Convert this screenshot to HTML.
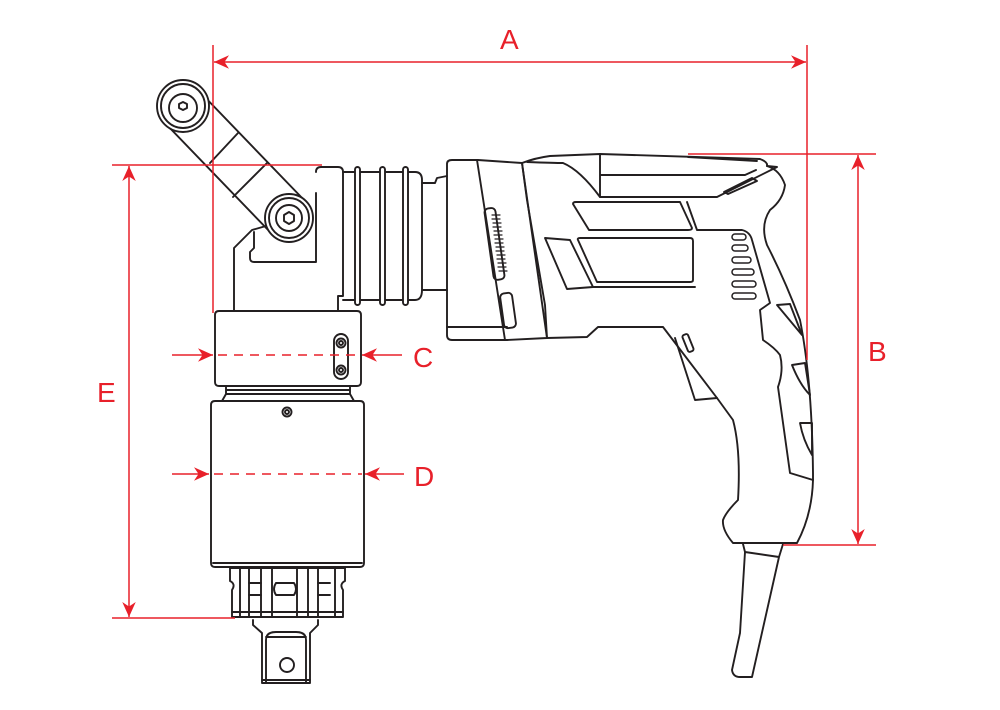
<!DOCTYPE html>
<html><head><meta charset="utf-8"><style>
html,body{margin:0;padding:0;background:#fff;width:1000px;height:710px;overflow:hidden}
svg{display:block}
text{font-family:"Liberation Sans",sans-serif;fill:#e8202a;font-size:28px}
</style></head><body>
<svg width="1000" height="710" viewBox="0 0 1000 710" xmlns="http://www.w3.org/2000/svg">
<defs>
<marker id="ar2" viewBox="0 0 10 10" refX="10" refY="5" markerWidth="15" markerHeight="15" orient="auto-start-reverse" markerUnits="userSpaceOnUse">
<path d="M0,0.5 L10,5 L0,9.5 L3,5 z" fill="#e8202a"/></marker>
</defs>
<g fill="none" stroke="#231f20" stroke-width="1.9" stroke-linejoin="round" stroke-linecap="round">
<!-- arm -->
<line x1="199" y1="91" x2="305" y2="201"/>
<line x1="166" y1="124" x2="272" y2="234"/>
<line x1="210" y1="163" x2="238" y2="133"/>
<line x1="233" y1="197" x2="267" y2="163"/>
<circle cx="183" cy="106" r="26" fill="#fff"/><circle cx="183" cy="106" r="22"/><circle cx="183" cy="108" r="14"/>
<polygon points="179,104 183,102 187,104 187,108 183,110 179,108" />
<circle cx="289" cy="218" r="24" fill="#fff"/><circle cx="289" cy="218" r="20"/><circle cx="289" cy="218" r="13"/>
<polygon points="284,215 289,212 294,215 294,221 289,224 284,221"/>
<!-- head block -->
<path d="M316,172 Q316,167 321,167 L338,167 Q343,167 343,172 L343,296 L338,296 L338,310"/>
<path d="M316,193 L316,262 L254,262 Q250,262 250,258 L250,252 L254,248 L254,232"/>
<path d="M266,226 L252,230 L234,248 L234,310"/>
<!-- collar -->
<path d="M343,172 L415,172 Q422,172 422,180 L422,290 Q422,300 415,300 L343,300"/>
<rect x="355" y="167" width="5" height="138" rx="2.5" fill="#fff"/>
<rect x="380" y="167" width="5" height="138" rx="2.5" fill="#fff"/>
<rect x="403" y="167" width="5" height="138" rx="2.5" fill="#fff"/>
<path d="M422,183 L435,183 L437,178 L447,176 M422,290 L447,290"/>
<!-- gear head -->
<path d="M447,164 Q447,160 452,160 L478,160 L522,163 L527,200 L545,305 L547,338 L507,340 L452,340 Q447,340 447,335 Z"/>
<path d="M477,160 L505,340 M447,327 L507,327"/>
<path d="M522,163 L547,338"/>
<rect x="489" y="208" width="11" height="72" rx="4" transform="rotate(-8 494 244)"/>
<g stroke-width="1.2"><path d="M492,215h8M492,219h8M493,223h8M493,227h8M494,231h8M494,235h8M495,239h8M495,243h8M496,247h8M496,251h8M497,255h8M497,259h8M498,263h8M498,267h8M499,271h8"/></g>
<rect x="502" y="293" width="12" height="35" rx="4" transform="rotate(-8 508 310)"/>
<!-- housing -->
<path d="M522,163 Q535,158 550,156 L600,154 L760,159 Q768,162 767,166 Q780,170 785,185 Q783,200 770,210 Q760,225 767,245 Q785,280 800,320 Q812,380 813,473 L813,480 Q812,515 797,543 L733,543 Q722,530 723,520 Q726,512 738,500 Q741,450 733,420 L717,398 L663,327 L598,327 L587,337 L547,338"/>
<path d="M527,162 Q555,163 563,163 Q580,170 600,197 L717,197 L777,167 L767,166"/>
<path d="M600,154 L600,197 M600,175 L745,175 L756,170 M688,157 L757,161"/>
<path d="M724,192 L752,178 L757,181 L728,194 Z"/>
<path d="M573,204 Q573,202 576,202 L680,202 L692,228 Q692,230 688,230 L589,230 Z"/>
<path d="M578,240 Q577,238 580,238 L690,238 Q693,238 693,241 L693,280 Q693,282 690,282 L597,282 Z"/>
<path d="M545,238 L570,240 L593,287 L567,289 Z M593,287 L695,287"/>
<path d="M687,202 L697,230 L742,230 Q750,232 752,240 L770,303 L760,310 L763,340 Q775,348 780,355 Q784,370 778,387 L790,473 L813,480"/>
<g stroke-width="1.5">
<rect x="732" y="234" width="14" height="6" rx="3"/>
<rect x="732" y="245" width="16" height="6" rx="3"/>
<rect x="732" y="257" width="19" height="6" rx="3"/>
<rect x="732" y="269" width="22" height="6" rx="3"/>
<rect x="732" y="281" width="24" height="6" rx="3"/>
<rect x="732" y="293" width="24" height="6" rx="3"/>
</g>
<path d="M777,305 L790,304 L802,335 Z"/>
<path d="M792,365 L805,363 L810,395 Q800,385 792,365 Z"/>
<path d="M800,423 L812,423 L812,455 Q803,440 800,423 Z"/>
<!-- trigger -->
<path d="M675,338 L695,400 L717,398"/>
<rect x="685" y="334" width="6" height="18" rx="2" transform="rotate(-22 688 343)"/>
<!-- cord -->
<path d="M743,544 L745,552 L779,557 L783,544 M745,552 Q742,600 740,633 L732,670 Q733,677 740,677 L752,677 L779,557"/>
<!-- lower socket -->
<path d="M219,311 L357,311 Q361,311 361,315 L361,382 Q361,386 357,386 L219,386 Q215,386 215,382 L215,315 Q215,311 219,311 Z"/>
<rect x="334" y="334" width="14" height="45" rx="7"/>
<circle cx="341" cy="343" r="4.5"/><circle cx="341" cy="343" r="2"/>
<circle cx="341" cy="370" r="4.5"/><circle cx="341" cy="370" r="2"/>
<path d="M226,386 L226,394 L350,394 L350,386 M226,390 L350,390 M226,394 L222,401 M350,394 L354,401"/>
<path d="M215,401 L360,401 Q364,401 364,405 L364,563 Q364,567 360,567 L215,567 Q211,567 211,563 L211,405 Q211,401 215,401 Z"/>
<path d="M213,563 L362,563"/>
<circle cx="287" cy="412" r="4.5"/><circle cx="287" cy="412" r="2"/>
<path d="M230,568 L230,581 Q236,584 232,590 L232,617 L343,617 L343,590 Q339,584 345,581 L345,568 Z"/>
<path d="M240,568 L240,617 M249,568 L249,617 M261,568 L261,617 M272,568 L272,617 M297,568 L297,617 M308,568 L308,617 M318,568 L318,617 M335,568 L335,617"/>
<path d="M249,583 L261,583 M249,595 L261,595 M276,583 L294,583 Q298,589 294,595 L276,595 Q272,589 276,583 M318,583 L330,583 M318,595 L330,595 M232,612 L343,612"/>
<path d="M253,620 L253,625 L262,633 L262,683 L310,683 L310,633 L318,625 L318,620"/>
<path d="M266,683 L266,640 Q266,632 276,632 L296,632 Q306,632 306,640 L306,683 M266,637 L306,637 M262,680 L310,680"/>
<circle cx="287" cy="665" r="7"/>
</g>
<!-- red dimensions -->
<g stroke="#e8202a" stroke-width="1.5" fill="none">
<line x1="213" y1="45" x2="213" y2="313"/>
<line x1="807" y1="45" x2="807" y2="360"/>
<line x1="214" y1="62" x2="806" y2="62" marker-start="url(#ar2)" marker-end="url(#ar2)"/>
<line x1="688" y1="154" x2="876" y2="154"/>
<line x1="783" y1="545" x2="876" y2="545"/>
<line x1="858" y1="155" x2="858" y2="544" marker-start="url(#ar2)" marker-end="url(#ar2)"/>
<line x1="112" y1="165" x2="322" y2="165"/>
<line x1="112" y1="618" x2="235" y2="618"/>
<line x1="129" y1="166" x2="129" y2="617" marker-start="url(#ar2)" marker-end="url(#ar2)"/>
<line x1="172" y1="355" x2="213" y2="355" marker-end="url(#ar2)"/>
<line x1="218" y1="355" x2="360" y2="355" stroke-dasharray="9,7"/>
<line x1="402" y1="355" x2="362" y2="355" marker-end="url(#ar2)"/>
<line x1="172" y1="474" x2="209" y2="474" marker-end="url(#ar2)"/>
<line x1="214" y1="474" x2="362" y2="474" stroke-dasharray="9,7"/>
<line x1="404" y1="474" x2="365" y2="474" marker-end="url(#ar2)"/>
</g>
<text x="500" y="49">A</text>
<text x="868" y="361">B</text>
<text x="413" y="367">C</text>
<text x="414" y="486">D</text>
<text x="97" y="402">E</text>
</svg>
</body></html>
